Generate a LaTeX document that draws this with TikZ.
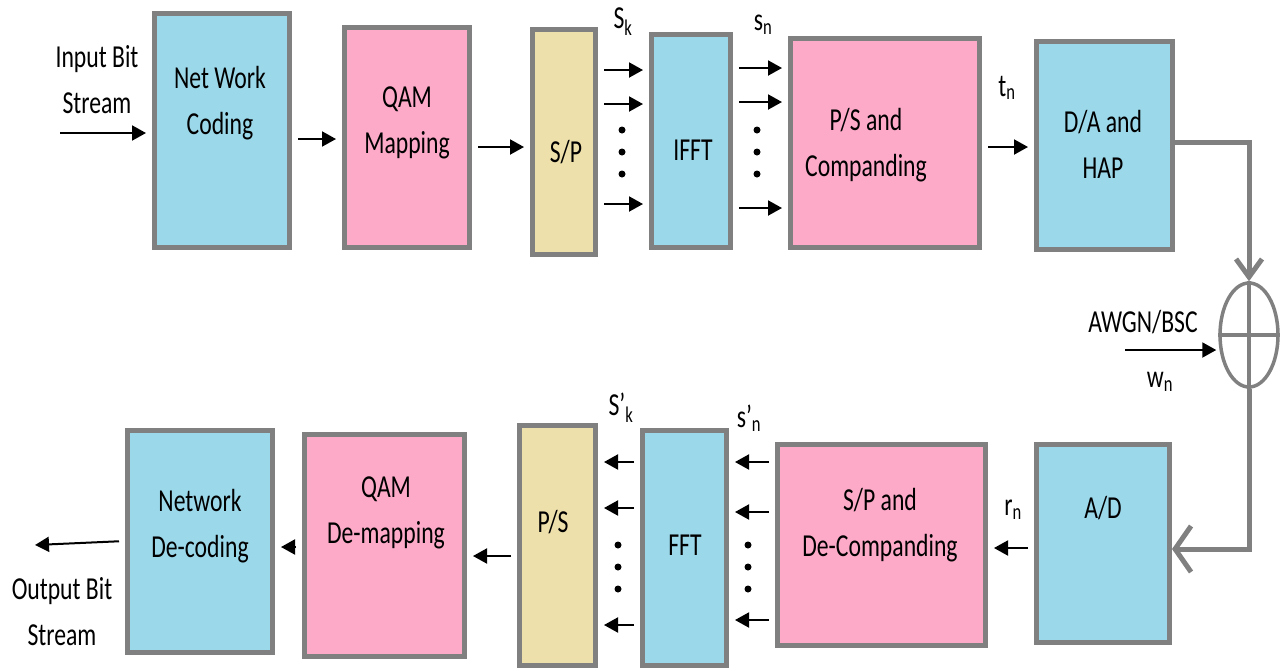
\documentclass[tikz,border=0pt]{standalone}
\usepackage{fontspec}
\setmainfont{Carlito}[FakeStretch=0.74]
\usetikzlibrary{arrows.meta,shapes.geometric}
\definecolor{blkblue}{HTML}{9BD8EA}
\definecolor{blkpink}{HTML}{FCAAC8}
\definecolor{blktan}{HTML}{EEE0AA}
\definecolor{edgegray}{HTML}{808080}
\tikzset{
  blk/.style={draw=edgegray,line width=5pt,inner sep=0pt},
  txt/.style={font=\fontsize{32}{46}\selectfont,align=center,inner sep=0pt},
  arr/.style={line width=2pt,-{Triangle[length=14pt,width=15pt]},shorten <=6pt,shorten >=6pt},
  gline/.style={draw=edgegray,line width=5pt},
}
\begin{document}
\begin{tikzpicture}[x=1pt,y=-1pt]
  \useasboundingbox (0,0) rectangle (1281,670);
  % transmitter
  \node[blk,fill=blkblue,minimum width=135pt,minimum height=234pt] (nwc) at (222,130.5) {};
  \node[blk,fill=blkpink,minimum width=125pt,minimum height=220pt] (qam) at (407,137.5) {};
  \node[blk,fill=blktan,minimum width=63pt,minimum height=225pt] (sp) at (564,142) {};
  \node[blk,fill=blkblue,minimum width=79pt,minimum height=213pt] (ifft) at (691,141) {};
  \node[blk,fill=blkpink,minimum width=189pt,minimum height=209pt] (ps) at (885,143) {};
  \node[blk,fill=blkblue,minimum width=136pt,minimum height=208pt] (da) at (1104.5,145.5) {};
  \node[txt] (nwc-t) at (220,103) {Net Work\\Coding};
  \node[txt] (qam-t) at (407,123) {QAM\\Mapping};
  \node[txt] (sp-t) at (566,152) {S/P};
  \node[txt] (ifft-t) at (693,150) {IFFT};
  \node[txt] (ps-t) at (866,145) {P/S and\\Companding};
  \node[txt] (da-t) at (1103,144) {D/A and\\HAP};
  % receiver
  \node[blk,fill=blkblue,minimum width=145pt,minimum height=222pt] (nwd) at (200,541.5) {};
  \node[blk,fill=blkpink,minimum width=160pt,minimum height=222pt] (qamd) at (384.5,545.5) {};
  \node[blk,fill=blktan,minimum width=76pt,minimum height=240pt] (ps2) at (557.5,545.5) {};
  \node[blk,fill=blkblue,minimum width=84pt,minimum height=235pt] (fft) at (684.5,548) {};
  \node[blk,fill=blkpink,minimum width=208pt,minimum height=201pt] (spd) at (881.5,545) {};
  \node[blk,fill=blkblue,minimum width=133pt,minimum height=198pt] (ad) at (1103,543.5) {};
  \node[txt] (nwd-t) at (200,526) {Network\\De-coding};
  \node[txt] (qamd-t) at (386,513) {QAM\\De-mapping};
  \node[txt] (ps2-t) at (553,522) {P/S};
  \node[txt] (fft-t) at (685,545) {FFT};
  \node[txt] (spd-t) at (880,525) {S/P and\\De-Companding};
  \node[txt] (ad-t) at (1103,508) {A/D};
  % channel
  \node[ellipse,draw=edgegray,line width=3.5pt,minimum width=58pt,minimum height=104pt,inner sep=0pt] (sum) at (1249,335) {};
  \draw[edgegray,line width=3.5pt] (sum.north) -- (sum.south) (sum.west) -- (sum.east);
  \draw[gline,-{Straight Barb[length=18pt,width=26pt]}] (da.east |- 0,142) -| (sum.north);
  \draw[gline,-{Straight Barb[length=16pt,width=46pt]}] (sum.south) |- (ad.east |- 0,549);
  \coordinate (wsrc) at (1125,350);
  \draw[arr,shorten <=0pt,shorten >=2pt] (wsrc) -- (sum.west |- wsrc);
  \node[txt] (awgn) at (1143,322) {AWGN/BSC};
  \node[txt] (wn) at (1160,382) {w\textsubscript{n}};
  % forward arrows
  \coordinate (inp) at (60,133);
  \node[txt] (inp-t) at (97,80) {Input Bit\\Stream};
  \draw[arr,shorten <=0pt] (inp) -- (nwc.west |- inp);
  \draw[arr] (nwc.east |- 0,139) -- (qam.west |- 0,139);
  \draw[arr] (qam.east |- 0,147) -- (sp.west |- 0,147);
  \foreach \y in {70,104,204}
    \draw[arr] (sp.east |- 0,\y) -- (ifft.west |- 0,\y);
  \foreach \y in {68,102,208}
    \draw[arr] (ifft.east |- 0,\y) -- (ps.west |- 0,\y);
  \draw[arr] (ps.east |- 0,147) -- (da.west |- 0,147);
  \foreach \y in {130,152,174} {
    \fill (622,\y) circle (3.5pt);
    \fill (757,\y) circle (3.5pt);
  }
  \node[txt] (sk) at (623,22) {S\textsubscript{k}};
  \node[txt] (sn) at (763,25) {s\textsubscript{n}};
  \node[txt] (tn) at (1007,88) {t\textsubscript{n}};
  % backward arrows
  \draw[arr] (ad.west |- 0,548) -- (spd.east |- 0,548);
  \foreach \y in {462,512,620}
    \draw[arr] (spd.west |- 0,\y) -- (fft.east |- 0,\y);
  \foreach \y in {462,508,625}
    \draw[arr] (fft.west |- 0,\y) -- (ps2.east |- 0,\y);
  \foreach \y in {545,567,589} {
    \fill (618,\y) circle (3.5pt);
    \fill (748,\y) circle (3.5pt);
  }
  \draw[arr] (ps2.west |- 0,556) -- (qamd.east |- 0,556);
  \draw[arr] (qamd.west |- 0,547) -- (nwd.east |- 0,547);
  \coordinate (outp) at (35,545);
  \draw[arr,shorten >=0pt] (nwd.west |- 0,541) -- (outp);
  \node[txt] (outp-t) at (62,612) {Output Bit\\Stream};
  \node[txt] (sk2) at (621,408) {S’\textsubscript{k}};
  \node[txt] (sn2) at (749,418) {s’\textsubscript{n}};
  \node[txt] (rn) at (1013,510) {r\textsubscript{n}};
\end{tikzpicture}
\end{document}
